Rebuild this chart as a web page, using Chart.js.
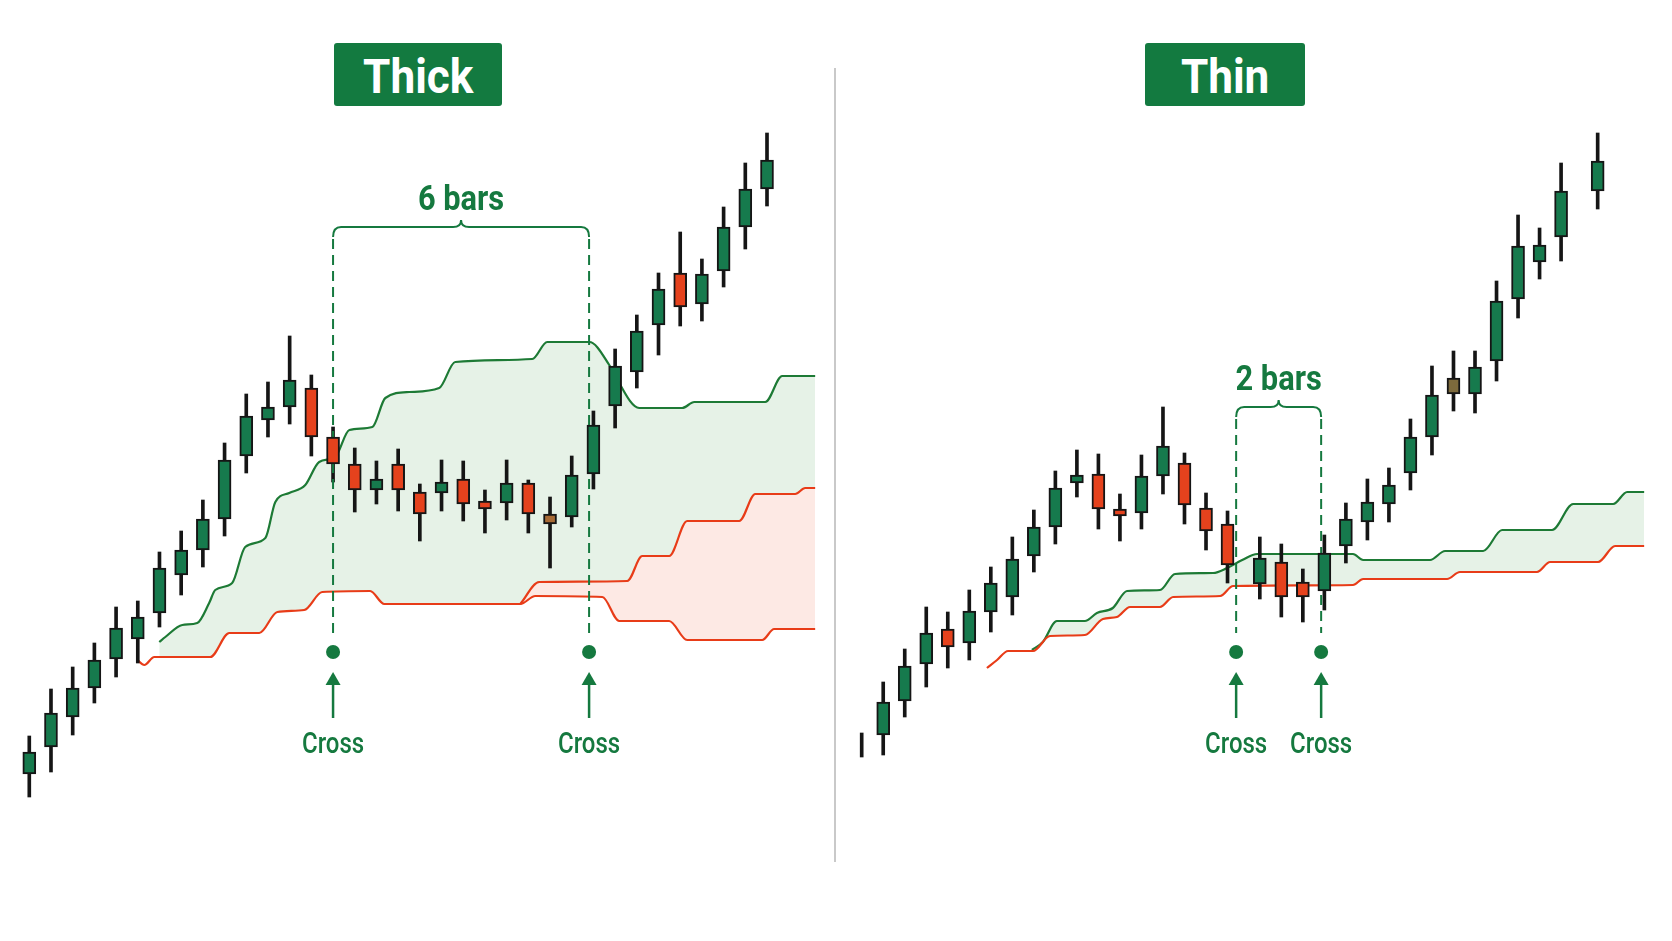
<!DOCTYPE html>
<html>
<head>
<meta charset="utf-8">
<script src="https://cdn.jsdelivr.net/npm/chart.js@4.4.1/dist/chart.umd.min.js"></script>
<style>
  html, body { margin: 0; padding: 0; background: #fff; }
  #wrap { position: relative; width: 1672px; height: 941px; overflow: hidden; background: #fff; }
  #wrap canvas { position: absolute; top: 0; }
  #thick { left: 0; }
  #thin { left: 836px; }
  #sep { position: absolute; left: 834px; top: 68px; width: 2px; height: 794px; background: #c9c9c9; }
  .badge {
    position: absolute; top: 43px; height: 63px; border-radius: 3px;
    background: #137a40; color: #fff; font: bold 49px Roboto, sans-serif;
    display: flex; align-items: center; justify-content: center;
  }
  .badge span { display: inline-block; transform: scaleX(0.9); margin-top: 3px; }
</style>
</head>
<body>
<div id="wrap">
  <canvas id="thick" width="836" height="941"></canvas>
  <canvas id="thin" width="836" height="941"></canvas>
  <div id="sep"></div>
  <div class="badge" style="left:334px;width:168px"><span>Thick</span></div>
  <div class="badge" style="left:1145px;width:160px"><span>Thin</span></div>
</div>
<script>
// Thick cloud: bar index and OHLC prices
const thickBars = [0, 1, 2, 3, 4, 5, 6, 7, 8, 9, 10, 11, 12, 13, 14, 15, 16, 17, 18, 19, 20, 21, 22, 23, 24, 25, 26, 27, 28, 29, 30, 31, 32, 33, 34];
const thickOpen = [16.7, 19.4, 22.4, 25.3, 28.2, 30.2, 32.8, 36.6, 39.1, 42.2, 48.5, 52.1, 53.4, 55.3, 50.4, 47.7, 45.1, 47.7, 44.9, 44.8, 46.2, 44.0, 43.8, 45.8, 42.7, 42.4, 46.7, 53.5, 56.9, 61.6, 66.8, 63.7, 67.0, 71.4, 75.2];
const thickHigh = [20.5, 25.2, 27.4, 29.8, 33.4, 34.0, 38.9, 41.0, 44.1, 49.8, 54.7, 55.9, 60.5, 56.6, 51.4, 49.3, 48.0, 49.2, 45.7, 48.1, 48.0, 45.1, 48.1, 46.1, 44.4, 48.5, 53.0, 59.2, 62.6, 66.8, 70.9, 68.2, 73.4, 77.8, 80.8];
const thickLow = [14.4, 16.9, 20.6, 23.8, 26.4, 27.8, 31.4, 34.6, 37.4, 40.5, 46.8, 50.4, 51.7, 48.5, 45.9, 42.9, 43.7, 43.0, 40.0, 43.0, 42.0, 40.8, 42.1, 40.8, 37.3, 41.4, 45.2, 51.3, 55.3, 58.6, 61.5, 62.0, 65.4, 69.2, 73.5];
const thickClose = [18.9, 22.8, 25.3, 28.1, 31.3, 32.4, 37.3, 39.1, 42.2, 48.1, 52.5, 53.4, 56.1, 50.4, 47.7, 45.1, 46.2, 45.1, 42.7, 45.9, 43.7, 43.2, 45.8, 42.7, 41.7, 46.6, 51.6, 57.5, 61.0, 65.2, 63.4, 66.7, 71.4, 75.2, 78.1];
const thickNeutral = [24];

// Thick cloud lines (span A green, span B red, second red edge)
const thickSpanAx = [5.99, 6.27, 7.05, 7.74, 8.29, 8.57, 9.35, 9.95, 10.88, 11.34, 11.98, 12.72, 13.36, 14.10, 14.75, 15.81, 16.41, 17.51, 18.89, 19.63, 23.18, 23.87, 25.81, 26.73, 27.00, 28.11, 30.09, 30.65, 33.92, 34.70, 36.22];
const thickSpanAy = [29.9, 30.4, 31.6, 31.8, 33.8, 35.1, 35.8, 39.4, 40.3, 43.9, 44.8, 45.6, 47.9, 48.4, 51.1, 51.4, 54.3, 54.9, 55.3, 57.9, 58.2, 59.9, 59.9, 57.6, 56.5, 53.3, 53.3, 53.9, 53.9, 56.5, 56.5];
const thickSpanBx = [4.98, 5.30, 5.76, 8.34, 9.22, 10.60, 11.43, 12.67, 13.50, 15.71, 16.36, 22.63, 23.32, 26.41, 27.19, 29.49, 30.32, 33.78, 34.33, 36.22];
const thickSpanBy = [28.1, 27.6, 28.4, 28.4, 30.8, 30.8, 32.9, 33.1, 34.9, 35.0, 33.7, 33.7, 34.5, 34.4, 32.0, 32.0, 30.1, 30.1, 31.2, 31.2];
const thickSpanCx = [22.63, 23.50, 27.56, 28.25, 29.49, 30.32, 32.72, 33.46, 35.30, 35.76, 36.22];
const thickSpanCy = [33.7, 35.9, 36.0, 38.5, 38.5, 42.0, 42.0, 44.7, 44.7, 45.3, 45.3];
const thickCross = [14, 25.8];

// Thin cloud: bar index and OHLC prices
const thinBars = [0, 1, 2, 3, 4, 5, 6, 7, 8, 9, 10, 11, 12, 13, 14, 15, 16, 17, 18.5, 19.5, 20.5, 21.5, 22.5, 23.5, 24.5, 25.5, 26.5, 27.5, 28.5, 29.5, 30.5, 31.5, 32.5, 34.2];
const thinOpen = [19.6, 20.6, 24.0, 27.7, 31.2, 29.8, 32.9, 34.4, 38.5, 41.4, 45.8, 46.7, 43.2, 42.8, 46.5, 47.8, 43.3, 41.7, 35.7, 37.9, 35.9, 35.0, 39.5, 41.9, 43.7, 46.8, 50.4, 54.7, 54.7, 58.0, 64.2, 67.9, 70.4, 75.0];
const thinHigh = [20.8, 25.9, 29.2, 33.4, 32.9, 35.1, 37.4, 40.4, 43.1, 47.0, 49.1, 48.7, 44.7, 48.6, 53.4, 48.8, 44.8, 43.0, 40.4, 39.7, 37.2, 40.6, 43.8, 46.2, 47.3, 52.2, 57.5, 59.0, 59.0, 66.0, 72.6, 71.3, 77.8, 80.8];
const thinLow = [18.4, 18.6, 22.4, 25.4, 27.3, 28.1, 30.9, 32.6, 36.9, 39.7, 44.4, 41.2, 40.0, 41.2, 44.7, 41.7, 39.1, 35.8, 34.2, 32.4, 31.9, 33.1, 37.8, 40.1, 41.9, 45.1, 48.6, 53.0, 52.8, 56.0, 62.3, 66.2, 68.0, 73.2];
const thinClose = [19.6, 23.9, 27.5, 30.8, 29.4, 33.0, 35.8, 38.2, 41.4, 45.3, 46.6, 43.2, 42.5, 46.5, 49.5, 43.6, 41.0, 37.6, 38.3, 34.4, 34.4, 38.8, 42.2, 43.9, 45.6, 50.4, 54.6, 56.3, 57.4, 64.0, 69.5, 69.6, 75.0, 78.0];
const thinNeutral = [27];

const thinSpanAx = [7.91, 8.42, 9.07, 10.37, 10.93, 11.67, 12.33, 13.86, 14.56, 16.33, 16.98, 17.68, 18.38, 22.83, 23.30, 26.41, 27.11, 28.88, 29.76, 32.08, 33.06, 34.92, 35.57, 36.36];
const thinSpanAy = [29.1, 29.9, 32.0, 32.0, 32.8, 33.3, 35.0, 35.1, 36.7, 36.8, 37.3, 38.1, 38.7, 38.7, 38.1, 38.1, 39.0, 39.0, 41.1, 41.1, 43.7, 43.7, 44.9, 44.9];
const thinSpanBx = [5.82, 6.29, 6.80, 7.96, 8.75, 10.37, 11.21, 11.86, 12.47, 13.86, 14.47, 16.66, 17.26, 22.83, 23.30, 27.20, 27.80, 31.38, 31.99, 34.22, 35.01, 36.36];
const thinSpanBy = [27.3, 28.1, 29.0, 29.0, 30.5, 30.6, 32.2, 32.4, 33.4, 33.4, 34.4, 34.5, 35.5, 35.6, 36.2, 36.2, 36.9, 36.9, 37.9, 37.9, 39.5, 39.5];
const thinCross = [17.4, 21.35];

const UP = '#167a4d', DOWN = '#e5421d', OUTLINE = '#151515';
const LINE_GREEN = '#1d7a35', LINE_RED = '#e83c18';
const FILL_GREEN = '#e6f2e7', FILL_PINK = '#fde9e4';
const MARK = '#15793f';

const pts = (xs, ys) => xs.map((x, i) => ({ x: x, y: ys[i] }));

function condensedText(ctx, text, cx, baseline, font, sx) {
  ctx.save();
  ctx.font = font;
  ctx.textAlign = 'center';
  ctx.textBaseline = 'alphabetic';
  ctx.translate(cx, baseline);
  ctx.scale(sx, 1);
  ctx.fillText(text, 0, 0);
  ctx.restore();
}

// dashed cross lines go under the candle bodies, the rest on top
const marks = {
  id: 'marks',
  afterDatasetDraw(chart, args, o) {
    if (args.index !== 1) return;
    const { ctx, scales: { x, y } } = chart;
    const by = y.getPixelForValue(o.bracket), ey = y.getPixelForValue(o.dashEnd);
    ctx.save();
    ctx.strokeStyle = MARK;
    ctx.lineWidth = 2;
    ctx.setLineDash([10, 6]);
    o.crosses.forEach(v => {
      const cx = x.getPixelForValue(v);
      ctx.beginPath();
      ctx.moveTo(cx, by + 12);
      ctx.lineTo(cx, ey);
      ctx.stroke();
    });
    ctx.restore();
  },
  afterDatasetsDraw(chart, args, o) {
    const { ctx, scales: { x, y } } = chart;
    const x1 = x.getPixelForValue(o.crosses[0]), x2 = x.getPixelForValue(o.crosses[1]);
    const by = y.getPixelForValue(o.bracket), dy = y.getPixelForValue(o.dot);
    const mid = (x1 + x2) / 2;
    ctx.save();
    ctx.strokeStyle = MARK;
    ctx.fillStyle = MARK;
    ctx.lineWidth = 2;
    ctx.beginPath();
    ctx.moveTo(x1, by + 10);
    ctx.quadraticCurveTo(x1, by, x1 + 8, by);
    ctx.lineTo(mid - 8, by);
    ctx.quadraticCurveTo(mid, by, mid, by - 7);
    ctx.quadraticCurveTo(mid, by, mid + 8, by);
    ctx.lineTo(x2 - 8, by);
    ctx.quadraticCurveTo(x2, by, x2, by + 10);
    ctx.stroke();
    condensedText(ctx, o.label, mid, by - 17, 'bold 35px Roboto', 0.88);
    [x1, x2].forEach(cx => {
      ctx.beginPath();
      ctx.arc(cx, dy, 7, 0, Math.PI * 2);
      ctx.fill();
      ctx.beginPath();
      ctx.moveTo(cx, dy + 20);
      ctx.lineTo(cx - 7.5, dy + 33);
      ctx.lineTo(cx + 7.5, dy + 33);
      ctx.closePath();
      ctx.fill();
      ctx.lineWidth = 2.5;
      ctx.beginPath();
      ctx.moveTo(cx, dy + 31);
      ctx.lineTo(cx, dy + 66);
      ctx.stroke();
      condensedText(ctx, 'Cross', cx, dy + 101, '500 30px Roboto', 0.8);
    });
    ctx.restore();
  }
};

function cloudChart(id, c) {
  const colors = c.bars.map((b, i) => c.neutral.includes(i) ? c.neutralColor : (c.close[i] >= c.open[i] ? UP : DOWN));
  const datasets = [
    { type: 'bar', data: c.bars.map((b, i) => ({ x: b, y: [c.open[i], c.close[i]] })),
      backgroundColor: colors, borderColor: OUTLINE, borderWidth: 2, borderSkipped: false,
      barThickness: 13, grouped: false, order: 0 },
    { type: 'bar', data: c.bars.map((b, i) => ({ x: b, y: [c.low[i], c.high[i]] })),
      backgroundColor: OUTLINE, barThickness: 3, grouped: false, order: 1 },
    { type: 'line', data: pts(c.bx, c.by), borderColor: LINE_RED, borderWidth: 2.2, pointRadius: 0,
      cubicInterpolationMode: 'monotone', fill: false, order: 2 }
  ];
  if (c.cx) {
    datasets.push({ type: 'line', data: pts(c.cx, c.cy), borderColor: LINE_RED, borderWidth: 2.2, pointRadius: 0,
      cubicInterpolationMode: 'monotone', fill: 2, backgroundColor: FILL_PINK, order: 3 });
  }
  datasets.push({ type: 'line', data: pts(c.ax, c.ay), borderColor: LINE_GREEN, borderWidth: 2.2, pointRadius: 0,
    cubicInterpolationMode: 'monotone', fill: 2, backgroundColor: FILL_GREEN, order: 4 });

  return new Chart(document.getElementById(id), {
    type: 'bar',
    data: { datasets: datasets },
    options: {
      responsive: false,
      animation: false,
      devicePixelRatio: 1,
      layout: { padding: 0 },
      scales: {
        x: { type: 'linear', min: c.xmin, max: c.xmax, offset: false, display: false },
        y: { type: 'linear', min: 0, max: 94.1, display: false }
      },
      plugins: {
        legend: { display: false },
        tooltip: { enabled: false },
        marks: c.marks
      }
    },
    plugins: [marks]
  });
}

cloudChart('thick', {
  bars: thickBars, open: thickOpen, high: thickHigh, low: thickLow, close: thickClose,
  neutral: thickNeutral, neutralColor: '#a86a35',
  ax: thickSpanAx, ay: thickSpanAy, bx: thickSpanBx, by: thickSpanBy, cx: thickSpanCx, cy: thickSpanCy,
  xmin: -1.35, xmax: 37.18,
  marks: { crosses: thickCross, bracket: 71.4, dashEnd: 30.8, dot: 28.9, label: '6 bars' }
});

cloudChart('thin', {
  bars: thinBars, open: thinOpen, high: thinHigh, low: thinLow, close: thinClose,
  neutral: thinNeutral, neutralColor: '#7d6a3c',
  ax: thinSpanAx, ay: thinSpanAy, bx: thinSpanBx, by: thinSpanBy,
  xmin: -1.194, xmax: 37.654,
  marks: { crosses: thinCross, bracket: 53.4, dashEnd: 30.8, dot: 28.9, label: '2 bars' }
});
</script>
</body>
</html>
